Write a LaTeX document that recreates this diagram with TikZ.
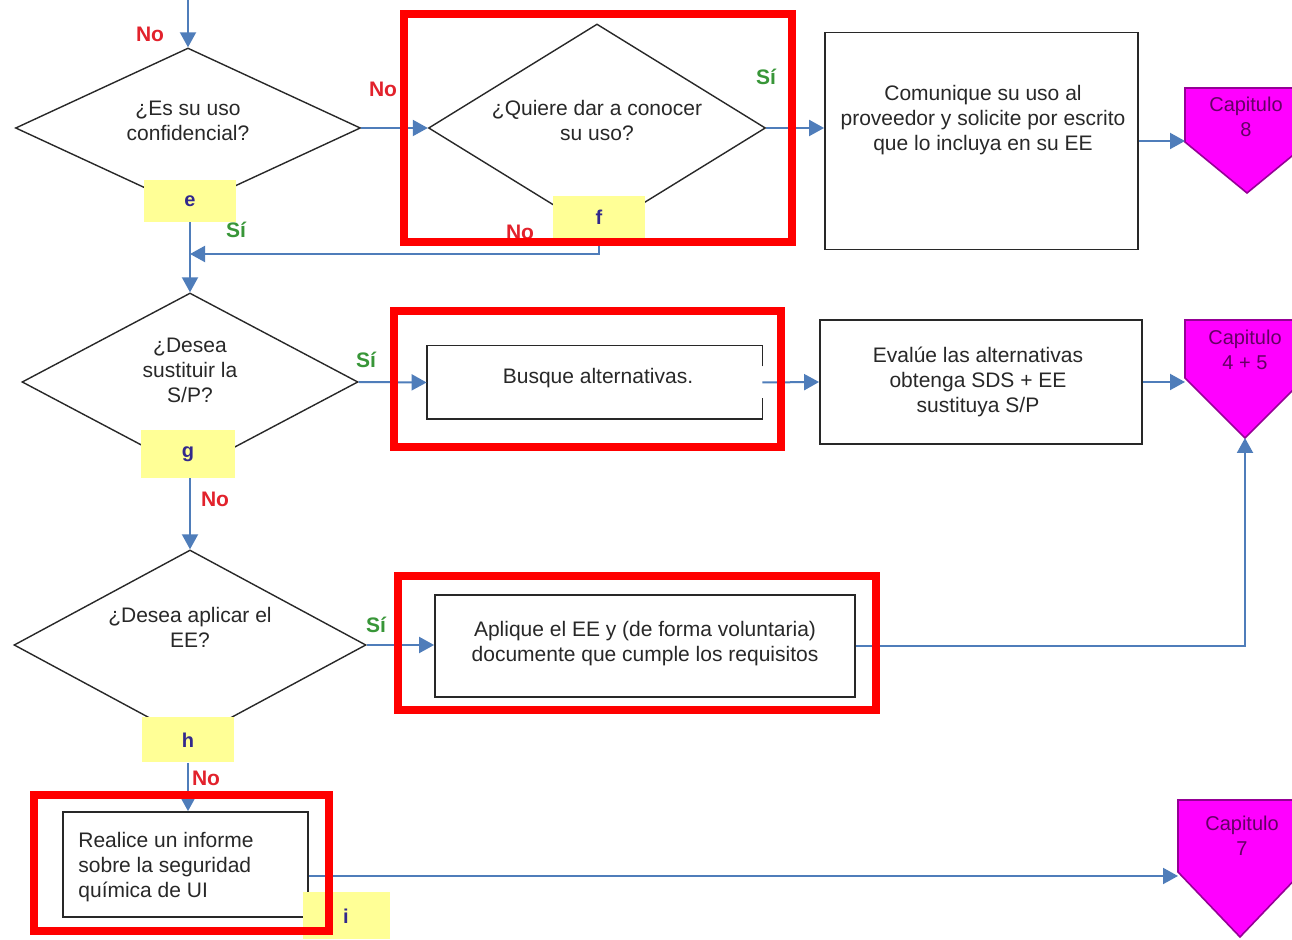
\documentclass[tikz,border=0pt]{standalone}
\usepackage{fontspec}
\setmainfont{Liberation Sans}
\usetikzlibrary{shapes.geometric,arrows.meta,calc}

\definecolor{flow}{RGB}{79,125,186}
\definecolor{noRed}{RGB}{226,34,44}
\definecolor{siGreen}{RGB}{56,150,56}
\definecolor{tagYellow}{RGB}{255,255,150}
\definecolor{tagInk}{RGB}{50,40,140}
\definecolor{chapFill}{RGB}{255,0,255}
\definecolor{chapLine}{RGB}{150,0,150}
\definecolor{chapInk}{RGB}{100,0,100}
\definecolor{frameRed}{RGB}{255,0,0}
\definecolor{ink}{RGB}{40,40,40}

\begin{document}
\begin{tikzpicture}[x=0.5pt,y=-0.5pt,
  every node/.style={font=\fontsize{10.5}{12.5}\selectfont, text=ink},
  decision/.style={diamond, draw=ink, line width=0.7pt, inner sep=0pt},
  stepbox/.style={rectangle, draw=ink, line width=0.9pt, inner sep=0pt},
  plainbox/.style={rectangle, inner sep=0pt},
  tag/.style={rectangle, fill=tagYellow, inner sep=0pt, text=tagInk,
    font=\fontsize{10}{12}\selectfont\bfseries},
  txt/.style={align=center, inner sep=0pt},
  nolbl/.style={text=noRed, inner sep=0pt, font=\fontsize{10.5}{12}\selectfont\bfseries},
  silbl/.style={text=siGreen, inner sep=0pt, font=\fontsize{10.5}{12}\selectfont\bfseries},
  arr/.style={draw=flow, line width=1pt, -{Triangle[length=7.5pt,width=8pt]}},
  chapter/.style={fill=chapFill, draw=chapLine, line width=0.8pt},
  chaptxt/.style={text=chapInk, align=center, inner sep=0pt, font=\fontsize{10}{12.5}\selectfont},
  frame/.style={draw=frameRed, line width=4pt},
]
\useasboundingbox (0,0) rectangle (1292,940);
\clip (0,0) rectangle (1292,940);
\fill[white] (0,0) rectangle (1292,940);

% ---- decisions ----
\node[decision, minimum width=172.5pt, minimum height=80pt] (d1) at (188,128) {};
\node[txt] (d1t) at (188,121) {¿Es su uso\\confidencial?};
\node[decision, minimum width=168.5pt, minimum height=104pt] (d2) at (597,128) {};
\node[txt] (d2t) at (597,121) {¿Quiere dar a conocer\\su uso?};
\node[decision, minimum width=168pt, minimum height=89pt] (d3) at (190,382) {};
\node[txt] (d3t) at (190,370) {¿Desea\\sustituir la\\S/P?};
\node[decision, minimum width=176pt, minimum height=95pt] (d4) at (190,645) {};
\node[txt] (d4t) at (190,627) {¿Desea aplicar el\\EE?};

% ---- process boxes ----
\node[stepbox, minimum width=156.5pt, minimum height=108.5pt] (b3) at (981.5,141) {};
\node[txt] (b3t) at (983,120) {Comunique su uso al\\proveedor y solicite por escrito\\que lo incluya en su EE};

\node[plainbox, minimum width=167.5pt, minimum height=36.5pt] (busque) at (594.5,382.5) {};
\draw[ink, line width=0.9pt] ([yshift=8pt]busque.east) -- (busque.north east)
  -- (busque.north west) -- (busque.south west) -- (busque.south east)
  -- ([yshift=-8pt]busque.east);
\node[txt] (busquet) at (598,378) {Busque alternativas.};

\node[stepbox, minimum width=161pt, minimum height=62pt] (evalue) at (981,382) {};
\node[txt] (evaluet) at (978,382) {Evalúe las alternativas\\obtenga SDS + EE\\sustituya S/P};

\node[stepbox, minimum width=210pt, minimum height=51pt] (aplique) at (645,646) {};
\node[txt] (apliquet) at (645,644) {Aplique el EE y (de forma voluntaria)\\documente que cumple los requisitos};

\node[stepbox, minimum width=122.5pt, minimum height=52.5pt] (realice) at (185.5,864.5) {};
\node[anchor=west, align=left, inner sep=0pt] (realicet) at (78,867) {Realice un informe\\sobre la seguridad\\química de UI};

% ---- chapter markers ----
\filldraw[chapter] (1185,88) -- (1309,88) -- (1309,142) -- (1247,193) -- (1185,142) -- cycle;
\coordinate (c8in) at (1185,141);
\node[chaptxt] (c8t) at (1246,117) {Capitulo\\8};

\filldraw[chapter] (1185,320) -- (1305,320) -- (1305,378) -- (1245,438) -- (1185,378) -- cycle;
\coordinate (c45in) at (1185,382);
\coordinate (c45tip) at (1245,438);
\node[chaptxt] (c45t) at (1245,350) {Capitulo\\4 + 5};

\filldraw[chapter] (1178,800) -- (1302,800) -- (1302,872) -- (1240,937) -- (1178,872) -- cycle;
\coordinate (c7in) at (1178,876);
\node[chaptxt] (c7t) at (1242,836) {Capitulo\\7};

% ---- yellow reference tags ----
\node[tag, minimum width=46pt, minimum height=21pt] (tagE) at (190,201) {e};
\node[tag, minimum width=46pt, minimum height=21pt] (tagF) at (599,217) {f};
\node[tag, minimum width=47pt, minimum height=24pt] (tagG) at (188,454) {g};
\node[tag, minimum width=46pt, minimum height=22.5pt] (tagH) at (188,740) {h};
\node[tag, minimum width=43.5pt, minimum height=23.5pt] (tagI) at (346,916) {i};

% ---- connectors ----
\coordinate (entry) at (188,0);
\coordinate (merge) at (190,254);
\draw[arr] (entry) -- (d1.north);
\draw[arr] (d1.east) -- (d2.west);
\draw[arr] (d2.east) -- (d2.east -| b3.west);
\draw[arr] (b3.east) -- (c8in);
\draw[arr] (d3.north |- tagE.south) -- (d3.north);
\draw[arr] (tagF.south) |- (merge);
\draw[arr] (d3.east) -- (busque.west);
\draw[arr] (busque.east) -- (evalue.west);
\draw[arr] (evalue.east) -- (c45in);
\draw[arr] (d4.north |- tagG.south) -- (d4.north);
\draw[arr] (d4.east) -- (d4.east -| aplique.west);
\draw[arr] (aplique.east) -| (c45tip);
\draw[arr] (tagH.south) -- (tagH.south |- realice.north);
\draw[arr] (realice.east |- c7in) -- (c7in);

% ---- branch labels ----
\node[nolbl] (no1) at (150,34) {No};
\node[nolbl] (no2) at (383,89) {No};
\node[silbl] (si1) at (766,77) {Sí};
\node[silbl] (si2) at (236,230) {Sí};
\node[nolbl] (no3) at (520,232) {No};
\node[silbl] (si3) at (366,360) {Sí};
\node[nolbl] (no4) at (215,499) {No};
\node[silbl] (si4) at (376,625) {Sí};
\node[nolbl] (no5) at (206,778) {No};

% ---- red highlight frames ----
\draw[frame] (404,14) rectangle (792,242);
\draw[frame] (394,311) rectangle (781,447);
\draw[frame] (398,576) rectangle (876,710);
\draw[frame] (33.5,795) rectangle (329,931);
\end{tikzpicture}
\end{document}
